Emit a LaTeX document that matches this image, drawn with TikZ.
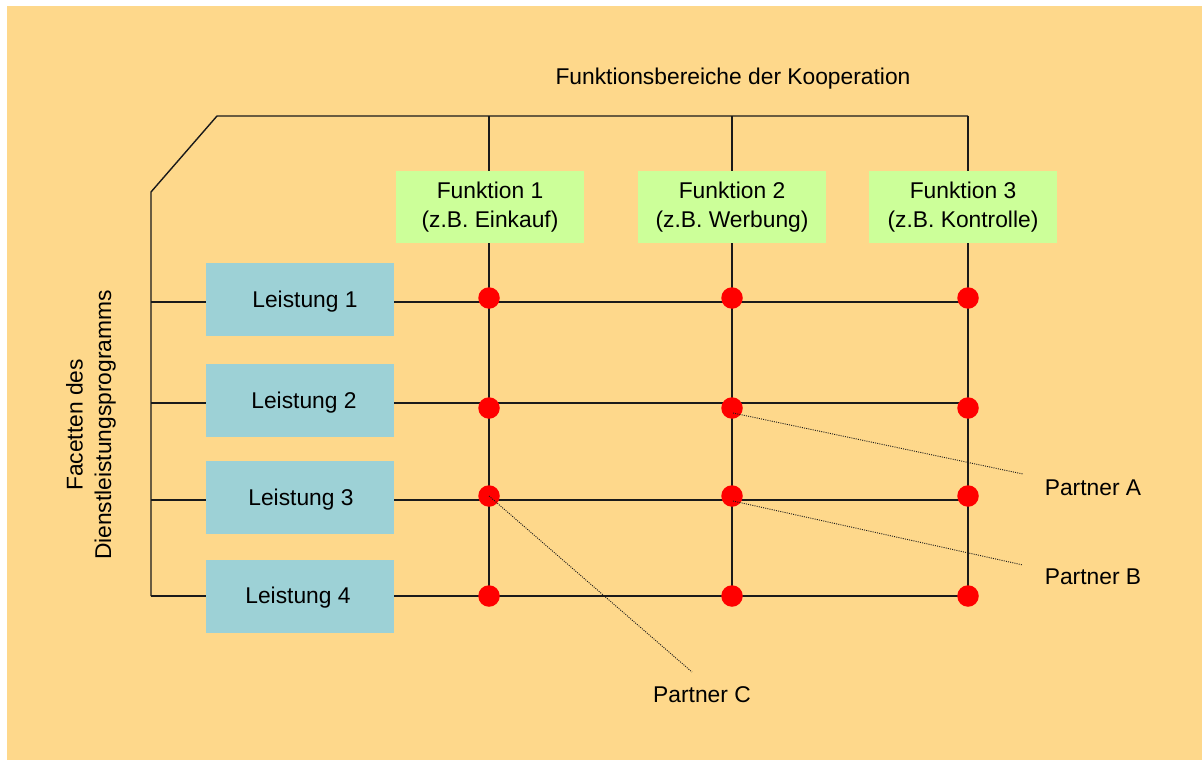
\documentclass[tikz,border=0pt]{standalone}
\usepackage{fontspec}
\setmainfont{Liberation Sans}
\definecolor{bgorange}{RGB}{254,216,139}
\definecolor{leistblue}{RGB}{157,209,214}
\definecolor{funkgreen}{RGB}{204,255,153}
\definecolor{dotred}{RGB}{255,0,0}
\definecolor{linedark}{RGB}{26,26,26}
\tikzset{
  txt/.style={font=\fontsize{22.8}{28.5}\selectfont, inner sep=0pt, align=center, text=black},
  leistbox/.style={txt, fill=leistblue, minimum width=188pt, minimum height=73pt, text height=16.4pt, text depth=4.8pt},
  funkbox/.style={txt, fill=funkgreen, minimum width=188pt, minimum height=72pt},
  gridline/.style={draw=linedark, line width=1.4pt},
  reddot/.style={circle, fill=dotred, minimum size=21.5pt, inner sep=0pt},
  dotline/.style={draw=linedark, line width=0.9pt, dash pattern=on 1pt off 1.2pt}
}
\newcommand{\leistshift}[3]{\hspace*{#1pt}\raisebox{#2pt}{#3}}
\begin{document}
\begin{tikzpicture}[x=1pt,y=-1pt]
\useasboundingbox (0,0) rectangle (1202,760);
\fill[white] (0,0) rectangle (1202,760);
\fill[bgorange] (7,6) rectangle (1202,760);

% frame coordinates
\coordinate (tl) at (217,116);
\coordinate (dg) at (151,192);
\coordinate (c1t) at (489,116);
\coordinate (c2t) at (732,116);
\coordinate (c3t) at (968,116);
\coordinate (c1b) at (489,596);
\coordinate (c2b) at (732,596);
\coordinate (c3b) at (968,596);
\coordinate (r1l) at (151,302); \coordinate (r1r) at (968,302);
\coordinate (r2l) at (151,403); \coordinate (r2r) at (968,403);
\coordinate (r3l) at (151,500); \coordinate (r3r) at (968,500);
\coordinate (r4l) at (151,596); \coordinate (r4r) at (968,596);

% frame and grid
\draw[gridline] (c3t) -- (tl) -- (dg) -- (r4l);
\draw[gridline] (c1t) -- (c1b);
\draw[gridline] (c2t) -- (c2b);
\draw[gridline] (c3t) -- (c3b);
\draw[gridline] (r1l) -- (r1r);
\draw[gridline] (r2l) -- (r2r);
\draw[gridline] (r3l) -- (r3r);
\draw[gridline] (r4l) -- (r4r);

% titles
\node[txt] (title) at (733,79) {Funktionsbereiche der Kooperation};
\node[txt, rotate=90] (facetten) at (91,425) {Facetten des\\Dienstleistungsprogramms};

% function boxes
\node[funkbox] (f1) at (490,207) {\raisebox{1pt}{Funktion 1}\\(z.B. Einkauf)};
\node[funkbox] (f2) at (732,207) {\raisebox{1pt}{Funktion 2}\\(z.B. Werbung)};
\node[funkbox] (f3) at (963,207) {\raisebox{1pt}{Funktion 3}\\(z.B. Kontrolle)};

% Leistung boxes
\node[leistbox] (l1) at (300,299.5) {\leistshift{10}{-2.5}{Leistung 1}};
\node[leistbox] (l2) at (300,400.5) {\leistshift{8}{-2.5}{Leistung 2}};
\node[leistbox] (l3) at (300,497.5) {\leistshift{2}{-2.5}{Leistung 3}};
\node[leistbox] (l4) at (300,596.5) {\leistshift{-4}{-1.5}{Leistung 4}};

% red dots
\node[reddot] (d11) at (489,298) {};
\node[reddot] (d12) at (732,298) {};
\node[reddot] (d13) at (968,298) {};
\node[reddot] (d21) at (489,408) {};
\node[reddot] (d22) at (732,408) {};
\node[reddot] (d23) at (968,408) {};
\node[reddot] (d31) at (489,496) {};
\node[reddot] (d32) at (732,496) {};
\node[reddot] (d33) at (968,496) {};
\node[reddot] (d41) at (489,596) {};
\node[reddot] (d42) at (732,596) {};
\node[reddot] (d43) at (968,596) {};

% partner labels
\node[txt] (pA) at (1093,488) {Partner A};
\node[txt] (pB) at (1093,577) {Partner B};
\node[txt] (pC) at (702,695) {Partner C};

\coordinate (aS) at (733,413); \coordinate (aE) at (1023,474);
\coordinate (bS) at (733,501); \coordinate (bE) at (1023,565);
\coordinate (cS) at (489,496); \coordinate (cE) at (692,672);
\draw[dotline] (aS) -- (aE);
\draw[dotline] (bS) -- (bE);
\draw[dotline] (cS) -- (cE);
\end{tikzpicture}
\end{document}
